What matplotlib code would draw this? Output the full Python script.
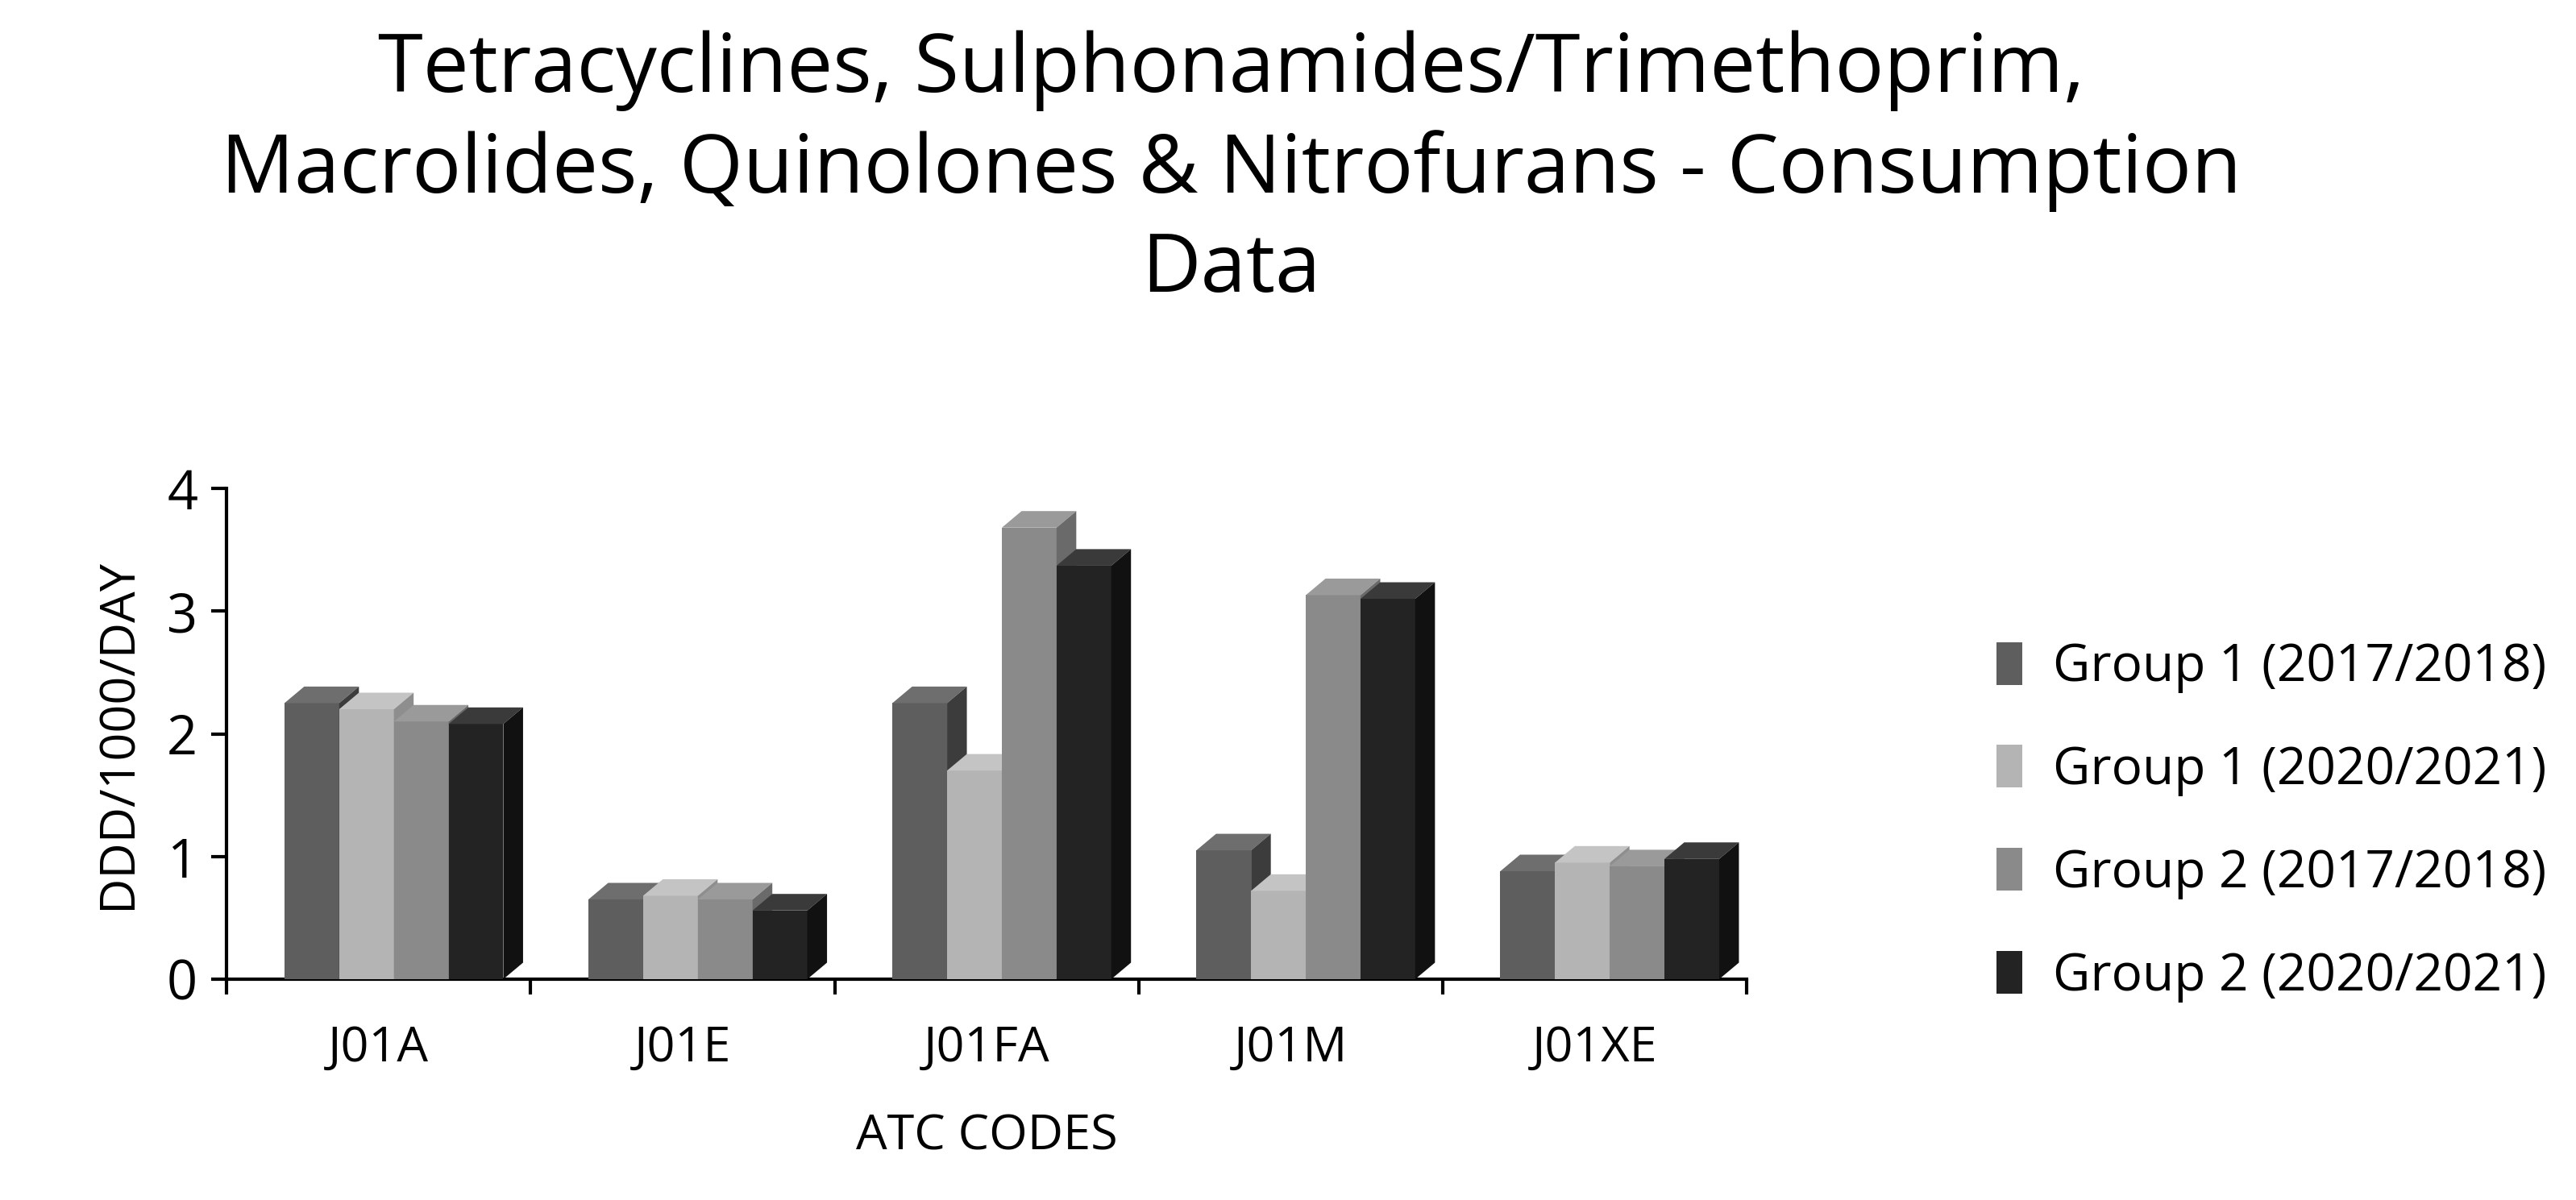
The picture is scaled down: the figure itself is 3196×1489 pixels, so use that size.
import matplotlib.pyplot as plt
from matplotlib.patches import Polygon, Patch

plt.rcParams['font.family'] = ['Open Sans', 'DejaVu Sans']

codes = ['J01A', 'J01E', 'J01FA', 'J01M', 'J01XE']
series = ['Group 1 (2017/2018)', 'Group 1 (2020/2021)',
          'Group 2 (2017/2018)', 'Group 2 (2020/2021)']
g1_1718 = [2.25, 0.65, 2.25, 1.05, 0.88]
g1_2021 = [2.20, 0.68, 1.70, 0.72, 0.95]
g2_1718 = [2.10, 0.65, 3.68, 3.13, 0.92]
g2_2021 = [2.08, 0.56, 3.37, 3.10, 0.98]
values = [g1_1718, g1_2021, g2_1718, g2_2021]

front = ['#5e5e5e', '#b4b4b4', '#8a8a8a', '#232323']
top = ['#6e6e6e', '#c4c4c4', '#9a9a9a', '#3a3a3a']
side = ['#3c3c3c', '#8e8e8e', '#6a6a6a', '#111111']

fig = plt.figure(figsize=(31.96, 14.89), dpi=100)
ax = fig.add_axes([0.088, 0.184, 0.59, 0.409])

w = 0.18
dx, dy = 0.065, 0.135
start = 0.19
for g in range(len(codes)):
    for s in range(len(series)):
        v = values[s][g]
        x0 = g + start + s * w
        x1 = x0 + w
        ax.add_patch(Polygon([(x0, 0), (x1, 0), (x1, v), (x0, v)], closed=True,
                             facecolor=front[s], edgecolor='none', zorder=3))
        ax.add_patch(Polygon([(x0, v), (x1, v), (x1 + dx, v + dy), (x0 + dx, v + dy)],
                             closed=True, facecolor=top[s], edgecolor='none', zorder=3))
        ax.add_patch(Polygon([(x1, 0), (x1 + dx, dy), (x1 + dx, v + dy), (x1, v)],
                             closed=True, facecolor=side[s], edgecolor='none', zorder=3))

ax.set_xlim(0, 5)
ax.set_ylim(0, 4)
ax.set_yticks([0, 1, 2, 3, 4])
ax.set_xticks(range(6))
ax.set_xticklabels([])
ax.set_xticks([i + 0.5 for i in range(5)], minor=True)
ax.set_xticklabels(codes, minor=True)
ax.tick_params(axis='x', which='minor', length=0, pad=40, labelsize=44)
ax.tick_params(axis='x', which='major', length=14, width=3, direction='out')
ax.tick_params(axis='y', length=14, width=3, labelsize=48, pad=12)
for sp in ['top', 'right']:
    ax.spines[sp].set_visible(False)
for sp in ['left', 'bottom']:
    ax.spines[sp].set_linewidth(3)
ax.set_ylabel('DDD/1000/DAY', fontsize=44, labelpad=22)
ax.set_xlabel('ATC CODES', fontsize=44, labelpad=36)

fig.text(0.478, 0.975, 'Tetracyclines, Sulphonamides/Trimethoprim,\n'
         'Macrolides, Quinolones & Nitrofurans - Consumption\nData',
         ha='center', va='top', fontsize=73, linespacing=1.3)

handles = [Patch(facecolor=c) for c in front]
fig.legend(handles, series, loc='center left', bbox_to_anchor=(0.757, 0.315),
           frameon=False, fontsize=46, handlelength=0.5, handleheight=0.9,
           labelspacing=1.0, handletextpad=0.6)

fig.savefig('out.png', dpi=100)
